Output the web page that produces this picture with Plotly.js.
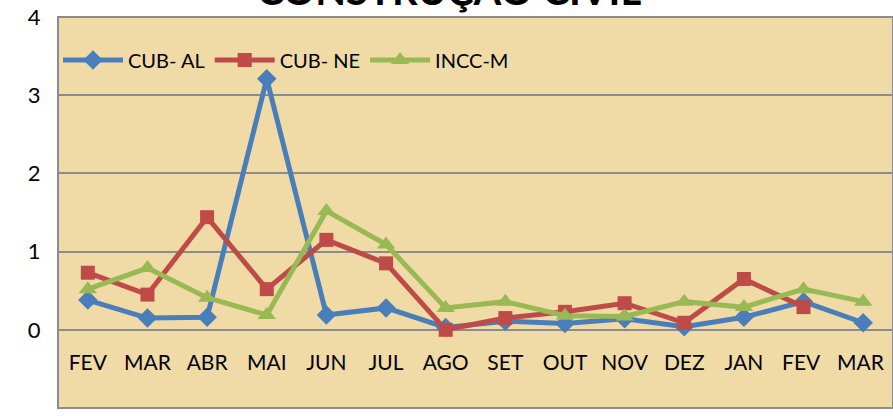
<!DOCTYPE html>
<html>
<head>
<meta charset="utf-8">
<script src="https://cdn.plot.ly/plotly-3.0.1.min.js"></script>
<style>html,body{margin:0;padding:0;background:#fff;}#chart{width:893px;height:416px;}</style>
</head>
<body>
<div id="chart"></div>
<script>
const categories = ["FEV","MAR","ABR","MAI","JUN","JUL","AGO","SET","OUT","NOV","DEZ","JAN","FEV ","MAR "];
const cubAL = [0.38,0.15,0.16,3.21,0.19,0.28,0.03,0.11,0.08,0.14,0.04,0.16,0.36,0.09];
const cubNE = [0.73,0.45,1.44,0.52,1.15,0.85,0.00,0.15,0.23,0.34,0.09,0.65,0.29,null];
const inccM = [0.52,0.79,0.41,0.19,1.52,1.09,0.28,0.36,0.18,0.17,0.36,0.29,0.52,0.36];
const seriesNames = ["CUB- AL","CUB- NE","INCC-M"];
const yTicks = [-1,0,1,2,3,4];
const titleText = 'CONSTRUÇÃO CIVIL';

const font = "Lato, 'Open Sans', sans-serif";
const traces = [
  {x: categories, y: cubAL, name: seriesNames[0], type: 'scatter', mode: 'lines+markers',
   line: {color: '#4A7EBB', width: 5}, marker: {symbol: 'diamond', size: 15, color: '#4A7EBB'}},
  {x: categories, y: cubNE, name: seriesNames[1], type: 'scatter', mode: 'lines+markers',
   line: {color: '#BE4B48', width: 5}, marker: {symbol: 'square', size: 14, color: '#BE4B48'}},
  {x: categories, y: inccM, name: seriesNames[2], type: 'scatter', mode: 'lines+markers',
   line: {color: '#98B954', width: 5}, marker: {symbol: 'triangle-up', size: 16, color: '#98B954'}}
];
const layout = {
  width: 893, height: 416,
  margin: {l: 58, r: 0, t: 17, b: 8},
  paper_bgcolor: '#ffffff',
  plot_bgcolor: '#F0DBA6',
  font: {family: font, color: '#000'},
  annotations: [{text: '<b>' + titleText + '</b>', xref: 'paper', yref: 'paper', x: 0.468, y: 1,
                 xanchor: 'center', yanchor: 'middle', yshift: 27, showarrow: false,
                 font: {family: font, size: 40, color: '#000'}}],
  showlegend: true,
  legend: {orientation: 'h', x: 0.0, xanchor: 'left', y: 0.94, yanchor: 'top', bgcolor: 'rgba(0,0,0,0)',
           font: {family: font, size: 20, color: '#000'}, itemwidth: 60, tracegroupgap: 0},
  xaxis: {type: 'category', range: [-0.5, 13.5], anchor: 'free', position: 0.2,
          showgrid: false, zeroline: false, showline: false,
          ticks: 'outside', ticklen: 14, tickcolor: 'rgba(0,0,0,0)',
          tickfont: {family: font, size: 21, color: '#000'}, fixedrange: true},
  yaxis: {range: [-1, 4], tickvals: yTicks, showgrid: true, gridcolor: '#8C8C8C', gridwidth: 2,
          zeroline: false, showline: false,
          ticks: 'outside', ticklen: 12, tickcolor: 'rgba(0,0,0,0)',
          tickfont: {family: font, size: 22, color: '#000'}},
  shapes: [{type: 'rect', xref: 'paper', yref: 'paper', x0: 0, x1: 1, y0: 0, y1: 1,
            line: {color: '#8C8C8C', width: 2}, layer: 'above'}]
};
Plotly.newPlot('chart', traces, layout, {displayModeBar: false, staticPlot: true});
</script>
</body>
</html>
